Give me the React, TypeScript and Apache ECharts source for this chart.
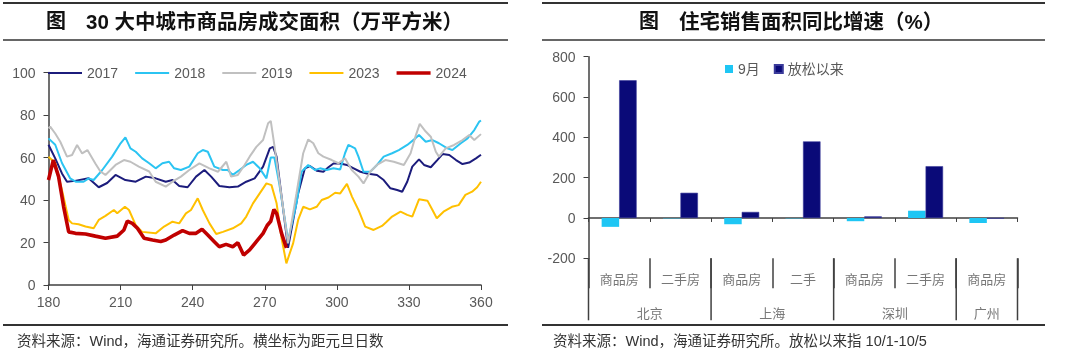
import React, { useEffect, useRef } from 'react';
import * as echarts from 'echarts';

// ---------- left chart data: day-of-year vs area (10k sqm) ----------
const years = ['2017', '2018', '2019', '2023', '2024'];
const dayTicks = { min: 180, max: 360, step: 30 };

const s2017: [number, number][] = [
  [180, 66], [182.8, 59.6], [185.6, 52.5], [187.7, 48.6], [191, 49], [196.7, 50.2], [200.9, 46], [204.4, 48],
  [207.9, 51.8], [212, 49.4], [216.3, 48.6], [220.5, 51], [224.6, 50.2], [228.8, 48.6], [231.6, 49.4], [234.4, 46.6],
  [237.9, 46], [241.4, 51], [244.9, 54.1], [247.7, 51], [251.1, 46.6], [255.3, 46], [258.8, 46.3], [262.3, 48.6],
  [265.8, 50.2], [269.3, 55.7], [272.1, 64.3], [273.5, 65], [274.9, 60.4], [279.7, 17.5], [283.9, 43.1], [286.7, 54.9],
  [288.8, 56], [291.6, 53.8], [294.4, 53.3], [296.5, 55.4], [298.6, 57.2], [301.4, 57.2], [304.2, 56.5], [307, 54.9],
  [309.8, 53.3], [312.5, 52.5], [316.7, 51.8], [319.5, 49.4], [322.3, 45.5], [325.1, 44.7], [327.2, 43.9], [329.3, 48.6],
  [331.4, 55.7], [334.2, 59.1], [336.3, 56.5], [339.1, 55.4], [341.8, 58.8], [344, 61.6], [346.8, 61.2], [349.6, 58.8],
  [352.3, 56.9], [355.1, 57.6], [357.9, 59.6], [360, 61.3],
];
const s2018: [number, number][] = [
  [180, 69], [182.8, 66], [185.6, 57.4], [189, 50.2], [191.3, 48.6], [194.6, 48.6], [196.7, 50.2], [198.8, 49.4],
  [202.3, 54], [206.5, 60.4], [210, 66.7], [212, 69.5], [214.1, 64.3], [216.3, 62.7], [219, 59.6], [221.9, 57.3],
  [224.6, 54.9], [227.4, 57.3], [230.2, 58], [232.3, 54.9], [235.1, 54.1], [238.6, 55.7], [242.1, 62], [244.2, 63.5],
  [246.3, 62.7], [249, 55.7], [252.6, 54.1], [254.6, 54.1], [256.7, 51.8], [259.5, 54.1], [262.3, 56.5], [265.1, 58],
  [267.9, 54.9], [270.7, 50.2], [272.5, 60], [274, 60], [276, 48], [279.7, 21], [283.2, 38.3], [285.3, 53.3],
  [288.1, 56.5], [290.9, 54.1], [293, 54.9], [295.8, 54.1], [298.6, 54.9], [301.4, 54.4], [303.4, 62], [304.8, 65.9],
  [307.6, 64.3], [309, 60.4], [311.1, 53.3], [313.9, 53.3], [316.7, 56.5], [319.5, 60.4], [323, 62], [325.8, 63.5],
  [329.3, 65.9], [332.7, 69], [334.2, 70.6], [337, 67.4], [339.8, 68.2], [342.5, 66.7], [346, 64.3], [348.1, 63.5],
  [351.6, 66.7], [354.4, 69], [357.2, 72.9], [359.3, 76.9], [360, 77.4],
];
const s2019: [number, number][] = [
  [180, 73.8], [180.7, 74.5], [182.8, 71.3], [184.9, 67.4], [187.7, 60.4], [189.8, 61.2], [191.9, 65.9], [194, 61.9],
  [196.2, 63.5], [199.5, 57.2], [201.6, 53.4], [203.7, 51.8], [207.9, 56.5], [211.4, 58.8], [214.1, 58], [217.6, 55.7],
  [221.9, 53.4], [224.6, 48.6], [228.8, 46.3], [231.6, 48.6], [235.1, 51], [238.6, 54.1], [242.8, 57.2], [247, 54.9],
  [250.5, 53.3], [254, 58], [256, 51], [258.8, 51.8], [261.6, 56.5], [263.7, 60.4], [266.5, 65], [269.3, 68.2],
  [271.4, 76.1], [272.5, 77.2], [274.1, 65], [279.7, 19.6], [283.2, 43.1], [286, 62], [288.1, 68.5], [290.2, 66.7],
  [292.3, 62], [294.4, 60.4], [297.9, 58.8], [300.7, 57.3], [303.4, 59.6], [306.2, 54.1], [309, 51], [311.1, 47.8],
  [313.9, 53.3], [316.7, 56.5], [320.2, 58.8], [323.7, 58], [327.9, 56.5], [330.7, 62], [332.7, 69.8], [334.5, 75.8],
  [337, 72.2], [339.1, 69.8], [341.2, 62.7], [342.5, 60.4], [345.3, 64.3], [348.8, 65.9], [352.3, 68.2], [355.1, 70.6],
  [357.2, 68.2], [360, 71],
];
const s2023: [number, number][] = [
  [180, 60.4], [182.8, 57.4], [185.6, 44.7], [188.4, 30.6], [189.8, 29], [192.5, 28.6], [195.4, 27.5], [198.8, 26.7],
  [200.9, 30.6], [203.7, 32.5], [207.2, 35.3], [208.6, 33.8], [211.8, 36.8], [213.5, 35.3], [216.3, 28.2], [219, 25],
  [224.6, 24.3], [228.1, 27.5], [231.6, 29.8], [234.4, 29], [237.2, 33.7], [239.3, 35.3], [242.1, 40.8], [244.2, 35.3],
  [247, 29], [249.8, 24], [252.6, 25], [256.7, 26.7], [260.2, 29], [262.3, 32.2], [265.1, 38.4], [267.9, 43.1],
  [270.7, 47.8], [272.8, 47], [274.9, 38.6], [277, 22], [279, 10.2], [281.8, 19.6], [283.9, 30.6], [286, 36.8],
  [288.8, 35.6], [291.6, 36.8], [293.7, 40], [296.5, 41.2], [299.3, 43.4], [301.4, 43.1], [304.2, 47.6], [306.3, 41.6],
  [309, 35.3], [311.8, 27.5], [315.3, 25.9], [318.8, 27.8], [320.5, 29.5], [323, 32.2], [326.5, 34.5], [329.3, 33],
  [331.4, 32.2], [334.2, 40.3], [337.7, 39.7], [339.8, 35.3], [341.6, 31.4], [344.4, 34.5], [347.9, 36.8], [350.7, 37.6],
  [353.5, 42.4], [356.3, 43.9], [358.4, 46], [360, 48.6],
];
const s2024: [number, number][] = [
  [180, 49.4], [182, 58.8], [184.2, 51], [186.3, 36.8], [188.4, 25], [191.2, 24.3], [195.4, 24], [199.5, 23],
  [203.7, 22], [208.6, 23], [211.4, 25.9], [212.8, 30.1], [214.9, 29], [217, 26.7], [219.8, 22], [223.3, 21.2],
  [226.7, 20.5], [228.8, 21.2], [232.3, 23.5], [235.8, 25.6], [238.6, 24.3], [241.4, 24.3], [243.9, 26.2], [246.3, 23.5],
  [249, 20.4], [251.1, 18], [253.9, 19.1], [256.7, 18], [258.8, 19.9], [261.2, 14.1], [263.7, 16.5], [266.5, 20.4],
  [269.3, 24.3], [271, 28], [272.5, 30], [273.8, 35.5], [275, 33.5], [277, 24.3], [279, 17.5],
];
const lineData = [s2017, s2018, s2019, s2023, s2024];
const lineColors = ['#1c1c7c', '#2bc4f2', '#c0c0c0', '#ffc000', '#c00000'];
const lineWidths = [2, 2, 2, 2, 3.6];

// ---------- right chart data: YoY growth (%) ----------
const barCategories = ['商品房', '二手房', '商品房', '二手', '商品房', '二手房', '商品房'];
const cityNames = ['北京', '上海', '深圳', '广州'];
const citySpans = [2, 2, 2, 1];
const barSeriesNames = ['9月', '放松以来'];
const septChange = [-44, -2, -31, -2, -16, 36, -25];
const sinceChange = [683, 125, 30, 380, 8, 257, -3];

const leftTitle = '30 大中城市商品房成交面积（万平方米）';
const rightTitle = '住宅销售面积同比增速（%）';
const leftSource = '资料来源：Wind，海通证券研究所。横坐标为距元旦日数';
const rightSource = '资料来源：Wind，海通证券研究所。放松以来指 10/1-10/5';

const FONT = '"Liberation Sans", Arial, "Noto Sans CJK SC", sans-serif';
const AXIS = '#404040';
const LABEL = '#595959';
const CAT = '#777';

export default function App() {
  const ref = useRef<HTMLDivElement>(null);
  useEffect(() => {
    const chart = echarts.init(ref.current!, null, { renderer: 'svg' });
    const option: any = {
      animation: false,
      textStyle: { fontFamily: FONT },
      grid: [
        { left: 48.5, top: 72.5, width: 432.5, height: 212.5 },
        { left: 588.5, top: 56.7, width: 429, height: 201.6 },
      ],
      legend: [
        {
          data: years.map((y, i) => ({
            name: y,
            icon: `path://M0,0H34V${lineWidths[i]}H0Z`,
          })),
          left: 48,
          top: 66,
          itemWidth: 34,
          itemHeight: 14,
          itemGap: 17,
          padding: 0,
          textStyle: { fontSize: 14, color: LABEL, fontFamily: FONT },
        },
        {
          data: barSeriesNames,
          left: 725,
          top: 62,
          icon: 'rect',
          itemWidth: 8,
          itemHeight: 8,
          itemGap: 14,
          padding: 0,
          textStyle: { fontSize: 14, color: LABEL, fontFamily: FONT },
        },
      ],
      xAxis: [
        {
          type: 'value',
          gridIndex: 0,
          min: dayTicks.min,
          max: dayTicks.max,
          interval: dayTicks.step,
          axisLine: { show: true, lineStyle: { color: AXIS, width: 1.5 } },
          axisTick: { show: true, length: 5, lineStyle: { color: AXIS } },
          axisLabel: { fontSize: 14, color: LABEL, margin: 10 },
          splitLine: { show: false },
        },
        {
          type: 'category',
          gridIndex: 1,
          data: barCategories,
          position: 'top',
          axisLine: { show: true, onZero: true, lineStyle: { color: AXIS, width: 1.5 } },
          axisTick: { show: true, inside: true, length: 4, lineStyle: { color: AXIS } },
          axisLabel: { show: false },
        },
        {
          type: 'category',
          gridIndex: 1,
          data: barCategories,
          position: 'bottom',
          axisLine: { show: false, onZero: false },
          axisTick: { show: true, length: 30, lineStyle: { color: AXIS, width: 1.5 } },
          axisLabel: { fontSize: 13, color: CAT, margin: 14, fontFamily: '"Noto Sans CJK SC", sans-serif' },
        },
      ],
      yAxis: [
        {
          type: 'value',
          gridIndex: 0,
          min: 0,
          max: 100,
          interval: 20,
          axisLine: { show: true, lineStyle: { color: AXIS, width: 1.5 } },
          axisTick: { show: true, length: 5, lineStyle: { color: AXIS } },
          axisLabel: { fontSize: 14, color: LABEL, margin: 13 },
          splitLine: { show: false },
        },
        {
          type: 'value',
          gridIndex: 1,
          min: -200,
          max: 800,
          interval: 200,
          axisLine: { show: true, lineStyle: { color: AXIS, width: 1.5 } },
          axisTick: { show: true, length: 5, lineStyle: { color: AXIS } },
          axisLabel: { fontSize: 14, color: LABEL, margin: 13 },
          splitLine: { show: false },
        },
      ],
      series: [
        ...years.map((y, i) => ({
          name: y,
          type: 'line',
          xAxisIndex: 0,
          yAxisIndex: 0,
          data: lineData[i],
          symbol: 'none',
          color: lineColors[i],
          lineStyle: { width: lineWidths[i], color: lineColors[i] },
          z: 2 + i,
        })),
        {
          name: barSeriesNames[0],
          type: 'bar',
          xAxisIndex: 2,
          yAxisIndex: 1,
          data: septChange,
          barWidth: 17.5,
          barGap: '0%',
          itemStyle: { color: '#1ec6f4' },
        },
        {
          name: barSeriesNames[1],
          type: 'bar',
          xAxisIndex: 2,
          yAxisIndex: 1,
          data: sinceChange,
          barWidth: 17.5,
          barGap: '0%',
          itemStyle: { color: '#0a0a78', borderColor: '#3a3a9a', borderWidth: 0.6 },
        },
      ],
    };
    chart.setOption(option);

    // multi-level category labels (cities) computed from the axis scale
    const c0 = chart.convertToPixel({ xAxisIndex: 2 }, 0) as number;
    const c1 = chart.convertToPixel({ xAxisIndex: 2 }, 1) as number;
    const band = c1 - c0;
    const yBottom = chart.convertToPixel({ yAxisIndex: 1 }, -200) as number;
    const bounds: number[] = [c0 - band / 2];
    let acc = 0;
    citySpans.forEach((s) => {
      acc += s;
      bounds.push(c0 - band / 2 + acc * band);
    });
    const groupEls: any[] = [];
    bounds.forEach((bx) => {
      groupEls.push({
        type: 'line',
        shape: { x1: bx, y1: yBottom, x2: bx, y2: yBottom + 62 },
        style: { stroke: AXIS, lineWidth: 1.5 },
        silent: true,
      });
    });
    cityNames.forEach((n, i) => {
      groupEls.push({
        type: 'text',
        x: (bounds[i] + bounds[i + 1]) / 2,
        y: yBottom + 54,
        style: {
          text: n,
          align: 'center',
          verticalAlign: 'middle',
          fontSize: 13,
          fill: CAT,
          fontFamily: '"Noto Sans CJK SC", sans-serif',
        },
        silent: true,
      });
    });

    const hline = (x1: number, x2: number, y: number, w: number) => ({
      type: 'line',
      shape: { x1, y1: y, x2, y2: y },
      style: { stroke: '#333', lineWidth: w },
      silent: true,
    });
    const txt = (text: string, x: number, y: number, size: number, weight: string, fill: string) => ({
      type: 'text',
      x,
      y,
      style: { text, fontSize: size, fontWeight: weight, fill, verticalAlign: 'middle', fontFamily: FONT },
      silent: true,
    });

    chart.setOption({
      graphic: {
        elements: [
          hline(3, 508, 3, 2),
          hline(3, 508, 40, 1.5),
          hline(3, 508, 325, 2),
          hline(542, 1045, 3, 2),
          hline(542, 1045, 40, 1.5),
          hline(542, 1045, 325, 2),
          txt('图', 46, 21, 20, 'bold', '#111'),
          txt(leftTitle, 86, 21, 20.5, 'bold', '#111'),
          txt('图', 639, 21, 20, 'bold', '#111'),
          txt(rightTitle, 679, 21, 20.5, 'bold', '#111'),
          txt(leftSource, 17, 341, 14.5, 'normal', '#333'),
          txt(rightSource, 553, 341, 14.5, 'normal', '#333'),
          ...groupEls,
        ],
      },
    });

    return () => chart.dispose();
  }, []);
  return <div ref={ref} style={{ position: 'fixed', left: 0, top: 0, width: 1080, height: 358 }} />;
}
